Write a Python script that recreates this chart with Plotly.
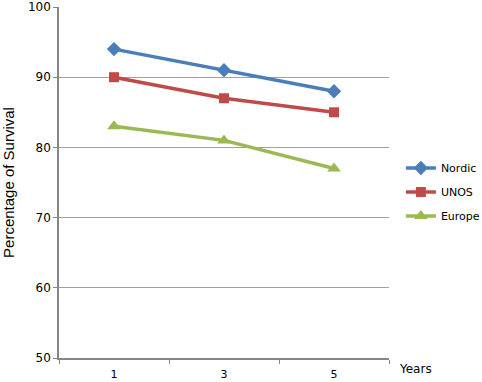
import plotly.graph_objects as go

years = ["1", "3", "5"]
nordic = [94, 91, 88]
unos = [90, 87, 85]
europe = [83, 81, 77]
y_ticks = [50, 60, 70, 80, 90, 100]

series = [
    ("Nordic", nordic, "#4A7EBB", "diamond", 11),
    ("UNOS", unos, "#BE4B48", "square", 10),
    ("Europe", europe, "#98B954", "triangle-up", 12),
]

fig = go.Figure()
for name, vals, color, sym, size in series:
    fig.add_trace(go.Scatter(
        x=years, y=vals, name=name, mode="lines+markers", legendgroup=name,
        line=dict(color=color, width=3.5),
        marker=dict(symbol=sym, size=size, color=color),
    ))

axis_col = "#868686"
fig.update_layout(
    width=482, height=382,
    margin=dict(l=59, r=93, t=7, b=24, autoexpand=False),
    paper_bgcolor="white", plot_bgcolor="white",
    font=dict(family="DejaVu Sans", size=11, color="#000000"),
    showlegend=True,
    legend=dict(x=1.036, y=0.473, xanchor="left", yanchor="middle",
                font=dict(family="DejaVu Sans", size=11), traceorder="grouped",
                tracegroupgap=5, itemwidth=30, borderwidth=0),
    xaxis=dict(type="category", range=[-0.5, 2.5], showline=True, linecolor=axis_col,
               linewidth=1.5, showgrid=False, ticks="outside", ticklen=4, tickcolor=axis_col,
               tickson="boundaries", tickfont=dict(size=11), automargin=False,
               ticklabelstandoff=5),
    yaxis=dict(range=[50, 100], tickvals=y_ticks, showline=True, linecolor=axis_col,
               linewidth=1.5, showgrid=True, gridcolor="#A0A0A0", gridwidth=1,
               ticks="outside", ticklen=4, tickcolor=axis_col, zeroline=False,
               tickfont=dict(size=12), automargin=False,
               title=dict(text="Percentage of Survival",
                          font=dict(family="Liberation Sans", size=15), standoff=14)),
)
fig.add_annotation(text="Years", xref="paper", yref="paper", x=1.024, y=-0.03,
                   xanchor="left", yanchor="middle", showarrow=False,
                   font=dict(family="DejaVu Sans", size=12))
fig.write_html("out.html", post_script="document.body.style.margin='0';",
               config={"displayModeBar": False})
